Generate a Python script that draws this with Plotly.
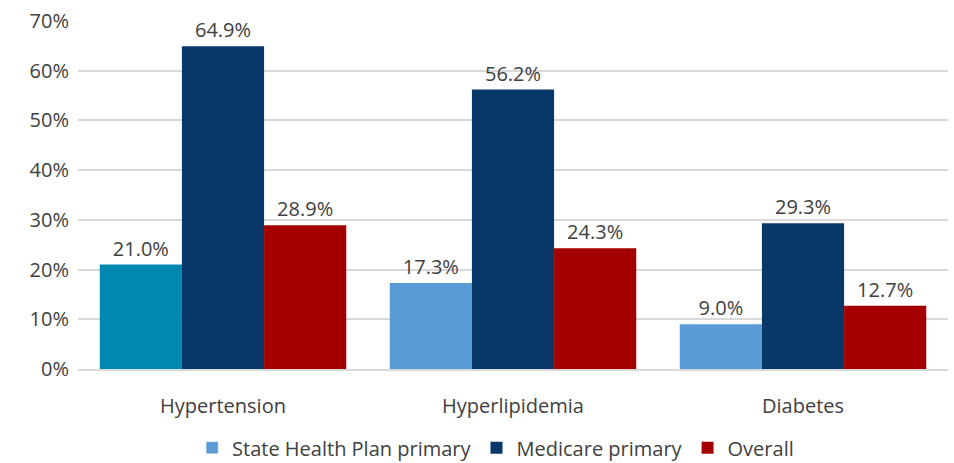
import plotly.graph_objects as go

categories = ["Hypertension", "Hyperlipidemia", "Diabetes"]
series_names = ["State Health Plan primary", "Medicare primary", "Overall"]
state_vals = [21.0, 17.3, 9.0]
medicare_vals = [64.9, 56.2, 29.3]
overall_vals = [28.9, 24.3, 12.7]
y_ticks = [0, 10, 20, 30, 40, 50, 60, 70]

colors = {"state": "#5B9BD5", "state_first": "#0088B0", "medicare": "#08386A", "overall": "#A50000"}
font_family = "Open Sans, Noto Sans, sans-serif"
txt_color = "#404040"
fs = 20

fig = go.Figure()
state_colors = [colors["state_first"]] + [colors["state"]] * (len(categories) - 1)
for i, (name, vals, col) in enumerate([
    (series_names[0], state_vals, state_colors),
    (series_names[1], medicare_vals, colors["medicare"]),
    (series_names[2], overall_vals, colors["overall"]),
]):
    fig.add_trace(go.Bar(
        x=categories, y=vals, name=name, offsetgroup=str(i),
        marker=dict(color=col, line=dict(width=0)),
        text=[f"{v:.1f}%" for v in vals], textposition="outside",
        textfont=dict(size=fs, color=txt_color, family=font_family),
        cliponaxis=False, showlegend=(i != 0), legendrank=i + 1,
    ))

# legend entry for the state series uses the light blue colour
fig.add_trace(go.Bar(x=[None], y=[None], name=series_names[0], offsetgroup="0",
                     marker=dict(color=colors["state"]), legendrank=1))

fig.update_layout(
    width=954, height=463,
    margin=dict(l=78, r=6, t=21, b=94, autoexpand=False),
    barmode="group", bargap=0.15, bargroupgap=0,
    plot_bgcolor="white", paper_bgcolor="white",
    font=dict(family=font_family, size=fs, color=txt_color),
    showlegend=True,
    legend=dict(orientation="h", x=0.48, xanchor="center", yref="container",
                y=0.033, yanchor="middle",
                font=dict(size=fs, color=txt_color), traceorder="normal",
                itemwidth=30, tracegroupgap=0),
)
fig.update_yaxes(range=[0, 70], tickvals=y_ticks, ticktext=[f"{t}%" for t in y_ticks],
                 showgrid=True, gridcolor="#D9D9D9", gridwidth=1.5, zeroline=False,
                 showline=False, tickfont=dict(size=fs, color=txt_color), ticks="",
                 ticklabelstandoff=8, automargin=False)
fig.update_xaxes(showline=True, linecolor="#D9D9D9", linewidth=1.5, ticks="",
                 tickfont=dict(size=fs, color=txt_color), ticklabelstandoff=18,
                 automargin=False)

fig.write_html("out.html")
